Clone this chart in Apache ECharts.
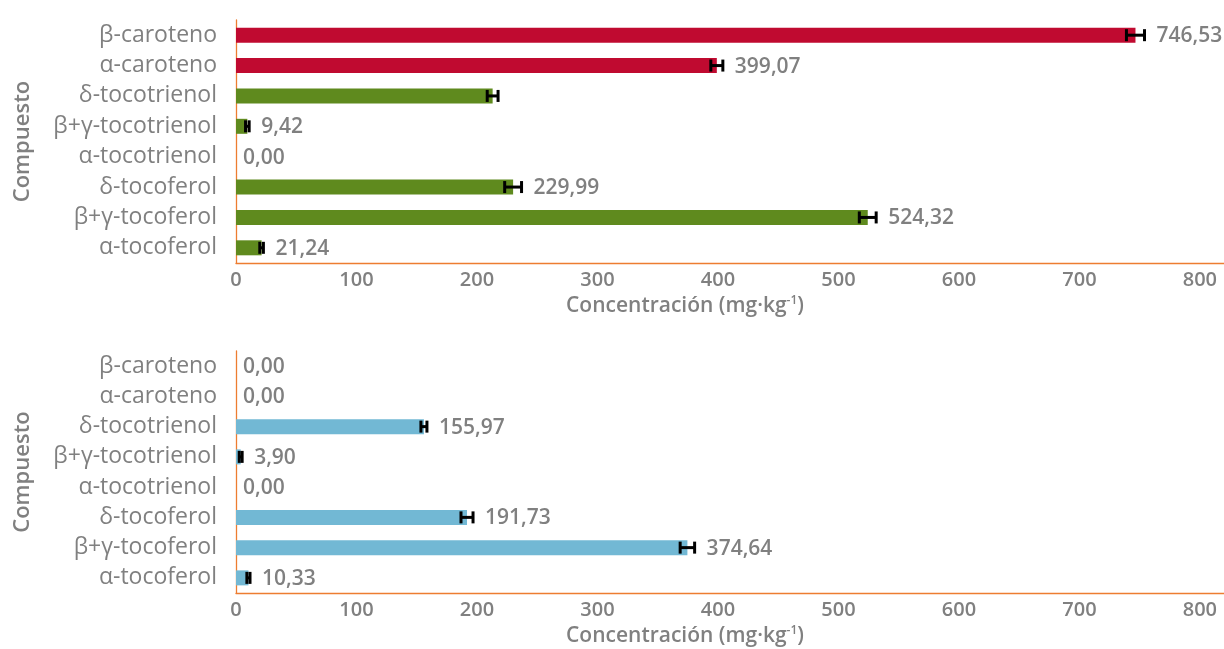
<!DOCTYPE html>
<html>
<head>
<meta charset="utf-8">
<title>Concentración de tocoferoles, tocotrienoles y carotenos</title>
<script src="https://cdn.jsdelivr.net/npm/echarts@6/dist/echarts.min.js"></script>
<style>
  html, body { margin: 0; padding: 0; background: #ffffff; }
  #chart { width: 1224px; height: 649px; }
</style>
</head>
<body>
<div id="chart"></div>
<script>
// Compounds, listed from the bottom of each panel to the top
const compounds = ['α-tocoferol', 'β+γ-tocoferol', 'δ-tocoferol', 'α-tocotrienol',
                   'β+γ-tocotrienol', 'δ-tocotrienol', 'α-caroteno', 'β-caroteno'];
// Compound family (tocols vs carotenes) decides the bar colour in the upper panel
const families = ['tocol', 'tocol', 'tocol', 'tocol', 'tocol', 'tocol', 'caroteno', 'caroteno'];

// Upper panel: mean concentration (mg·kg-1) and its deviation
const upperValues = [21.24, 524.32, 229.99, 0.00, 9.42, 213.0, 399.07, 746.53];
const upperErrors = [1.5, 7.0, 7.0, 0, 1.5, 4.5, 5.0, 7.5];
const upperHiddenLabels = ['δ-tocotrienol'];

// Lower panel
const lowerValues = [10.33, 374.64, 191.73, 0.00, 3.90, 155.97, 0.00, 0.00];
const lowerErrors = [1.3, 6.0, 5.0, 0, 1.2, 2.5, 0, 0];
const lowerHiddenLabels = [];

// Value axis ticks
const axisMin = 0, axisMax = 820, axisStep = 100;

const upperPalette = { tocol: '#5F8A1E', caroteno: '#C00A30' };
const lowerColor = '#72B8D4';
const grey = '#808080';
const axisOrange = '#ED7D31';
const FONT = '"Open Sans", "Noto Sans", sans-serif';

const fmt = v => v.toFixed(2).replace('.', ',');

function xAxisFor(gridIndex) {
  return {
    type: 'value', gridIndex, min: axisMin, max: axisMax, interval: axisStep,
    splitLine: { show: false },
    axisTick: { show: false },
    axisLine: { show: true, lineStyle: { color: axisOrange, width: 1.3 } },
    axisLabel: { color: grey, fontSize: 20, fontWeight: 600, fontFamily: FONT, margin: 7, showMaxLabel: false },
    name: 'Concentración (mg·kg{sup|-1})',
    nameLocation: 'middle', nameGap: 32,
    nameTextStyle: {
      color: grey, fontSize: 21, fontWeight: 600, fontFamily: FONT, padding: [0, 90, 0, 0],
      rich: { sup: { fontSize: 12, fontWeight: 600, color: grey, fontFamily: FONT, verticalAlign: 'top', padding: [0, 0, 10, 0] } }
    }
  };
}

function yAxisFor(gridIndex) {
  return {
    type: 'category', gridIndex, data: compounds,
    axisTick: { show: false },
    axisLine: { show: true, lineStyle: { color: axisOrange, width: 1.3 } },
    axisLabel: { color: grey, fontSize: 23, fontFamily: FONT, margin: 19 },
    name: 'Compuesto', nameLocation: 'middle', nameGap: 202, nameRotate: 90,
    nameTextStyle: { color: grey, fontSize: 22, fontWeight: 600, fontFamily: FONT }
  };
}

function barSeries(idx, values, colorOf) {
  return {
    type: 'bar', xAxisIndex: idx, yAxisIndex: idx, barWidth: 15,
    data: values.map((v, i) => ({ value: v, itemStyle: { color: colorOf(i) } })),
    silent: true, animation: false
  };
}

// Error bars with the value label placed just past the upper whisker
function errorSeries(idx, values, errors, hidden) {
  return {
    type: 'custom', xAxisIndex: idx, yAxisIndex: idx, silent: true, animation: false, z: 5,
    encode: { x: 0, y: 1 },
    data: values.map((v, i) => [v, i, errors[i], hidden.indexOf(compounds[i]) >= 0 ? 0 : 1]),
    renderItem: function (params, api) {
      const v = api.value(0), ci = api.value(1), e = api.value(2), show = api.value(3);
      const lo = api.coord([v - e, ci]);
      const hi = api.coord([v + e, ci]);
      const half = 6;
      const stroke = { stroke: '#000000', lineWidth: 3 };
      const children = [];
      if (e > 0) {
        children.push({ type: 'line', shape: { x1: lo[0], y1: lo[1], x2: hi[0], y2: hi[1] }, style: stroke });
        children.push({ type: 'line', shape: { x1: lo[0], y1: lo[1] - half, x2: lo[0], y2: lo[1] + half }, style: stroke });
        children.push({ type: 'line', shape: { x1: hi[0], y1: hi[1] - half, x2: hi[0], y2: hi[1] + half }, style: stroke });
      }
      if (show) {
        children.push({
          type: 'text',
          style: {
            x: hi[0] + (e > 0 ? 12 : 7), y: hi[1] + 1, text: fmt(v),
            fill: grey, font: '600 21px ' + FONT, textAlign: 'left', textVerticalAlign: 'middle'
          }
        });
      }
      return { type: 'group', children };
    }
  };
}

const chart = echarts.init(document.getElementById('chart'), null, { renderer: 'canvas' });
chart.setOption({
  backgroundColor: '#ffffff',
  animation: false,
  grid: [
    { left: 236, right: 0, top: 20, height: 243 },
    { left: 236, right: 0, top: 351, height: 242 }
  ],
  xAxis: [xAxisFor(0), xAxisFor(1)],
  yAxis: [yAxisFor(0), yAxisFor(1)],
  series: [
    barSeries(0, upperValues, i => upperPalette[families[i]]),
    errorSeries(0, upperValues, upperErrors, upperHiddenLabels),
    barSeries(1, lowerValues, () => lowerColor),
    errorSeries(1, lowerValues, lowerErrors, lowerHiddenLabels)
  ]
});
</script>
</body>
</html>
